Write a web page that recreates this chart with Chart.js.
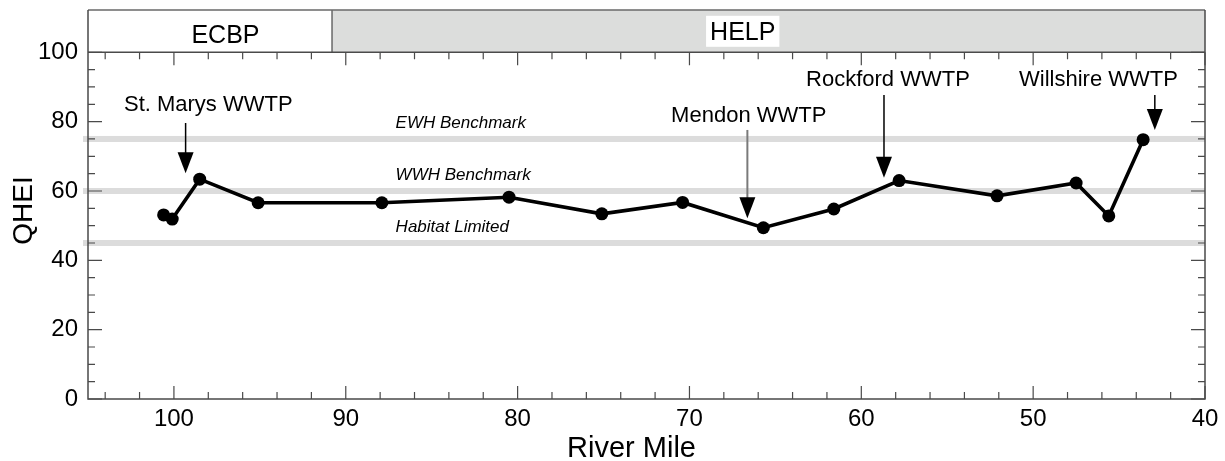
<!DOCTYPE html>
<html>
<head>
<meta charset="utf-8">
<title>QHEI by River Mile</title>
<script src="https://cdn.jsdelivr.net/npm/chart.js@4"></script>
<style>
  html, body { margin: 0; padding: 0; background: #fff; }
  #wrap { width: 1225px; height: 461px; }
</style>
</head>
<body>
<div id="wrap"><canvas id="chart" width="1225" height="461"></canvas></div>
<script>
// QHEI scores by river mile
const riverMile = [100.6, 100.1, 98.5, 95.1, 87.9, 80.5, 75.1, 70.4, 65.7, 61.6, 57.8, 52.1, 47.5, 45.6, 43.6];
const qhei      = [53.1, 51.9, 63.4, 56.6, 56.6, 58.2, 53.4, 56.7, 49.4, 54.8, 63.0, 58.6, 62.3, 52.8, 74.8];

// axis tick labels and titles
const xTickLabels = [100, 90, 80, 70, 60, 50, 40];
const yTickLabels = [0, 20, 40, 60, 80, 100];
const xTitle = 'River Mile';
const yTitle = 'QHEI';

// ecoregion strip above the plot
const regionNames = ['ECBP', 'HELP'];
const regionBounds = [105, 90.8, 40];
const regionLabelMiles = [97.0, 66.9];
const regionLabelValues = [105.4, 106.2];

// benchmark bands
const benchmarkNames = ['EWH Benchmark', 'WWH Benchmark', 'Habitat Limited'];
const benchmarkValues = [75, 60, 45];
const benchmarkLabelMile = 87.1;

// wastewater treatment plant markers
const wwtpNames = ['St. Marys WWTP', 'Mendon WWTP', 'Rockford WWTP', 'Willshire WWTP'];
const wwtpMiles = [99.32, 66.63, 58.68, 42.92];
const wwtpArrowTip = [65.1, 52.1, 63.8, 77.6];
const wwtpArrowTop = [79.6, 77.6, 87.7, 87.7];
const wwtpLabelMiles = [98.0, 66.55, 58.45, 46.2];
const wwtpLabelValues = [83.1, 79.8, 90.3, 90.3];

const FONT = '"Liberation Sans", Arial, Helvetica, sans-serif';
const AXIS = '#4a4a4a';
const BAND = '#dcdcdc';

// draws text so that the capital letters are centred on yCenter
function capText(ctx, text, x, yCenter, size, align, style) {
  ctx.font = (style ? style + ' ' : '') + size + 'px ' + FONT;
  ctx.textAlign = align;
  ctx.textBaseline = 'alphabetic';
  ctx.fillText(text, x, yCenter + size * 0.358);
}

const framePlugin = {
  id: 'frame',
  beforeDatasetsDraw(chart) {
    const { ctx, chartArea: a, scales: { x, y } } = chart;
    ctx.save();

    // ecoregion strip
    const yTop = y.getPixelForValue(y.max);
    const y100 = y.getPixelForValue(100);
    for (let i = 0; i < regionNames.length; i++) {
      const x0 = x.getPixelForValue(regionBounds[i]);
      const x1 = x.getPixelForValue(regionBounds[i + 1]);
      ctx.fillStyle = i === 0 ? '#ffffff' : '#dcdddc';
      ctx.fillRect(x0, yTop, x1 - x0, y100 - yTop);
    }
    ctx.strokeStyle = '#6a6a6a';
    ctx.lineWidth = 1.5;
    ctx.beginPath();
    ctx.moveTo(a.left, yTop); ctx.lineTo(a.right, yTop);
    for (let i = 1; i < regionBounds.length - 1; i++) {
      const xb = x.getPixelForValue(regionBounds[i]);
      ctx.moveTo(xb, yTop); ctx.lineTo(xb, y100);
    }
    ctx.stroke();
    for (let i = 0; i < regionNames.length; i++) {
      const cx = x.getPixelForValue(regionLabelMiles[i]);
      const cy = y.getPixelForValue(regionLabelValues[i]);
      ctx.font = '25px ' + FONT;
      const w = ctx.measureText(regionNames[i]).width;
      ctx.fillStyle = '#ffffff';
      ctx.fillRect(cx - w / 2 - 4, cy - 15, w + 8, 31);
      ctx.fillStyle = '#000';
      capText(ctx, regionNames[i], cx, cy, 25, 'center');
    }

    // benchmark bands
    benchmarkValues.forEach((v, i) => {
      const py = y.getPixelForValue(v);
      ctx.fillStyle = BAND;
      ctx.fillRect(a.left - 5, py - 3, a.right - a.left + 5, 6);
      ctx.fillStyle = '#000';
      ctx.font = 'italic 17px ' + FONT;
      ctx.textAlign = 'left';
      ctx.textBaseline = 'alphabetic';
      ctx.fillText(benchmarkNames[i], x.getPixelForValue(benchmarkLabelMile), py - 11);
    });

    // plot frame
    ctx.strokeStyle = AXIS;
    ctx.lineWidth = 1.5;
    ctx.beginPath();
    ctx.moveTo(a.left, yTop); ctx.lineTo(a.left, a.bottom); ctx.lineTo(a.right, a.bottom); ctx.lineTo(a.right, yTop);
    ctx.moveTo(a.left, y100); ctx.lineTo(a.right, y100);
    ctx.stroke();

    // inward tick marks
    ctx.lineWidth = 1.2;
    ctx.beginPath();
    for (let m = 104; m >= 40; m -= 2) {
      const px = x.getPixelForValue(m);
      const len = m % 10 === 0 ? 13 : 7;
      ctx.moveTo(px, a.bottom); ctx.lineTo(px, a.bottom - len);
      ctx.moveTo(px, y100); ctx.lineTo(px, y100 + len);
    }
    for (let v = 0; v <= 100; v += 5) {
      const py = y.getPixelForValue(v);
      const len = v % 20 === 0 ? 14 : 7;
      ctx.moveTo(a.left, py); ctx.lineTo(a.left + len, py);
      ctx.moveTo(a.right, py); ctx.lineTo(a.right - len, py);
    }
    ctx.stroke();

    // axis titles
    ctx.fillStyle = '#000';
    capText(ctx, xTitle, (a.left + a.right) / 2 - 15, a.bottom + 47.5, 29, 'center');
    ctx.save();
    ctx.translate(21.5, (a.top + a.bottom) / 2 + 6);
    ctx.rotate(-Math.PI / 2);
    capText(ctx, yTitle, 0, 0, 28, 'center');
    ctx.restore();

    ctx.restore();
  },
  afterDatasetsDraw(chart) {
    const { ctx, scales: { x, y } } = chart;
    ctx.save();
    wwtpNames.forEach((name, i) => {
      const px = x.getPixelForValue(wwtpMiles[i]);
      const tip = y.getPixelForValue(wwtpArrowTip[i]);
      const top = y.getPixelForValue(wwtpArrowTop[i]);
      const headH = 21, headW = 16;
      const gray = i === 1;
      ctx.strokeStyle = gray ? '#7a7a7a' : '#000';
      ctx.lineWidth = gray ? 2 : 1.5;
      ctx.beginPath();
      ctx.moveTo(px, top); ctx.lineTo(px, tip - headH + 1);
      ctx.stroke();
      ctx.fillStyle = '#000';
      ctx.beginPath();
      ctx.moveTo(px - headW / 2, tip - headH);
      ctx.lineTo(px + headW / 2, tip - headH);
      ctx.lineTo(px, tip);
      ctx.closePath();
      ctx.fill();

      ctx.font = '22px ' + FONT;
      ctx.textAlign = 'center';
      ctx.textBaseline = 'alphabetic';
      ctx.fillText(name, x.getPixelForValue(wwtpLabelMiles[i]), y.getPixelForValue(wwtpLabelValues[i]));
    });
    ctx.restore();
  }
};

new Chart(document.getElementById('chart'), {
  type: 'line',
  data: {
    datasets: [{
      data: riverMile.map((m, i) => ({ x: m, y: qhei[i] })),
      borderColor: '#000',
      backgroundColor: '#000',
      borderWidth: 3.6,
      pointRadius: 6.5,
      pointHoverRadius: 6.5,
      pointBorderWidth: 0,
      tension: 0
    }]
  },
  options: {
    responsive: false,
    animation: false,
    events: [],
    layout: { padding: { top: 10, right: 20, left: 0, bottom: 0 } },
    plugins: { legend: { display: false }, tooltip: { enabled: false } },
    scales: {
      x: {
        type: 'linear',
        reverse: true,
        min: 40,
        max: 105,
        afterBuildTicks: s => { s.ticks = xTickLabels.map(v => ({ value: v })); },
        afterFit: s => { s.height = 62; s.paddingLeft = 0; s.paddingRight = 0; },
        grid: { display: false, drawTicks: false },
        border: { display: false },
        ticks: { autoSkip: false, maxRotation: 0, padding: 6, color: '#000', font: { family: FONT, size: 24 } },
        title: { display: false }
      },
      y: {
        type: 'linear',
        min: 0,
        max: 112.2,
        afterBuildTicks: s => { s.ticks = yTickLabels.map(v => ({ value: v })); },
        afterFit: s => { s.width = 88; s.paddingTop = 0; s.paddingBottom = 0; },
        grid: { display: false, drawTicks: false },
        border: { display: false },
        ticks: { autoSkip: false, padding: 10, color: '#000', font: { family: FONT, size: 24 } },
        title: { display: false }
      }
    }
  },
  plugins: [framePlugin]
});
</script>
</body>
</html>
